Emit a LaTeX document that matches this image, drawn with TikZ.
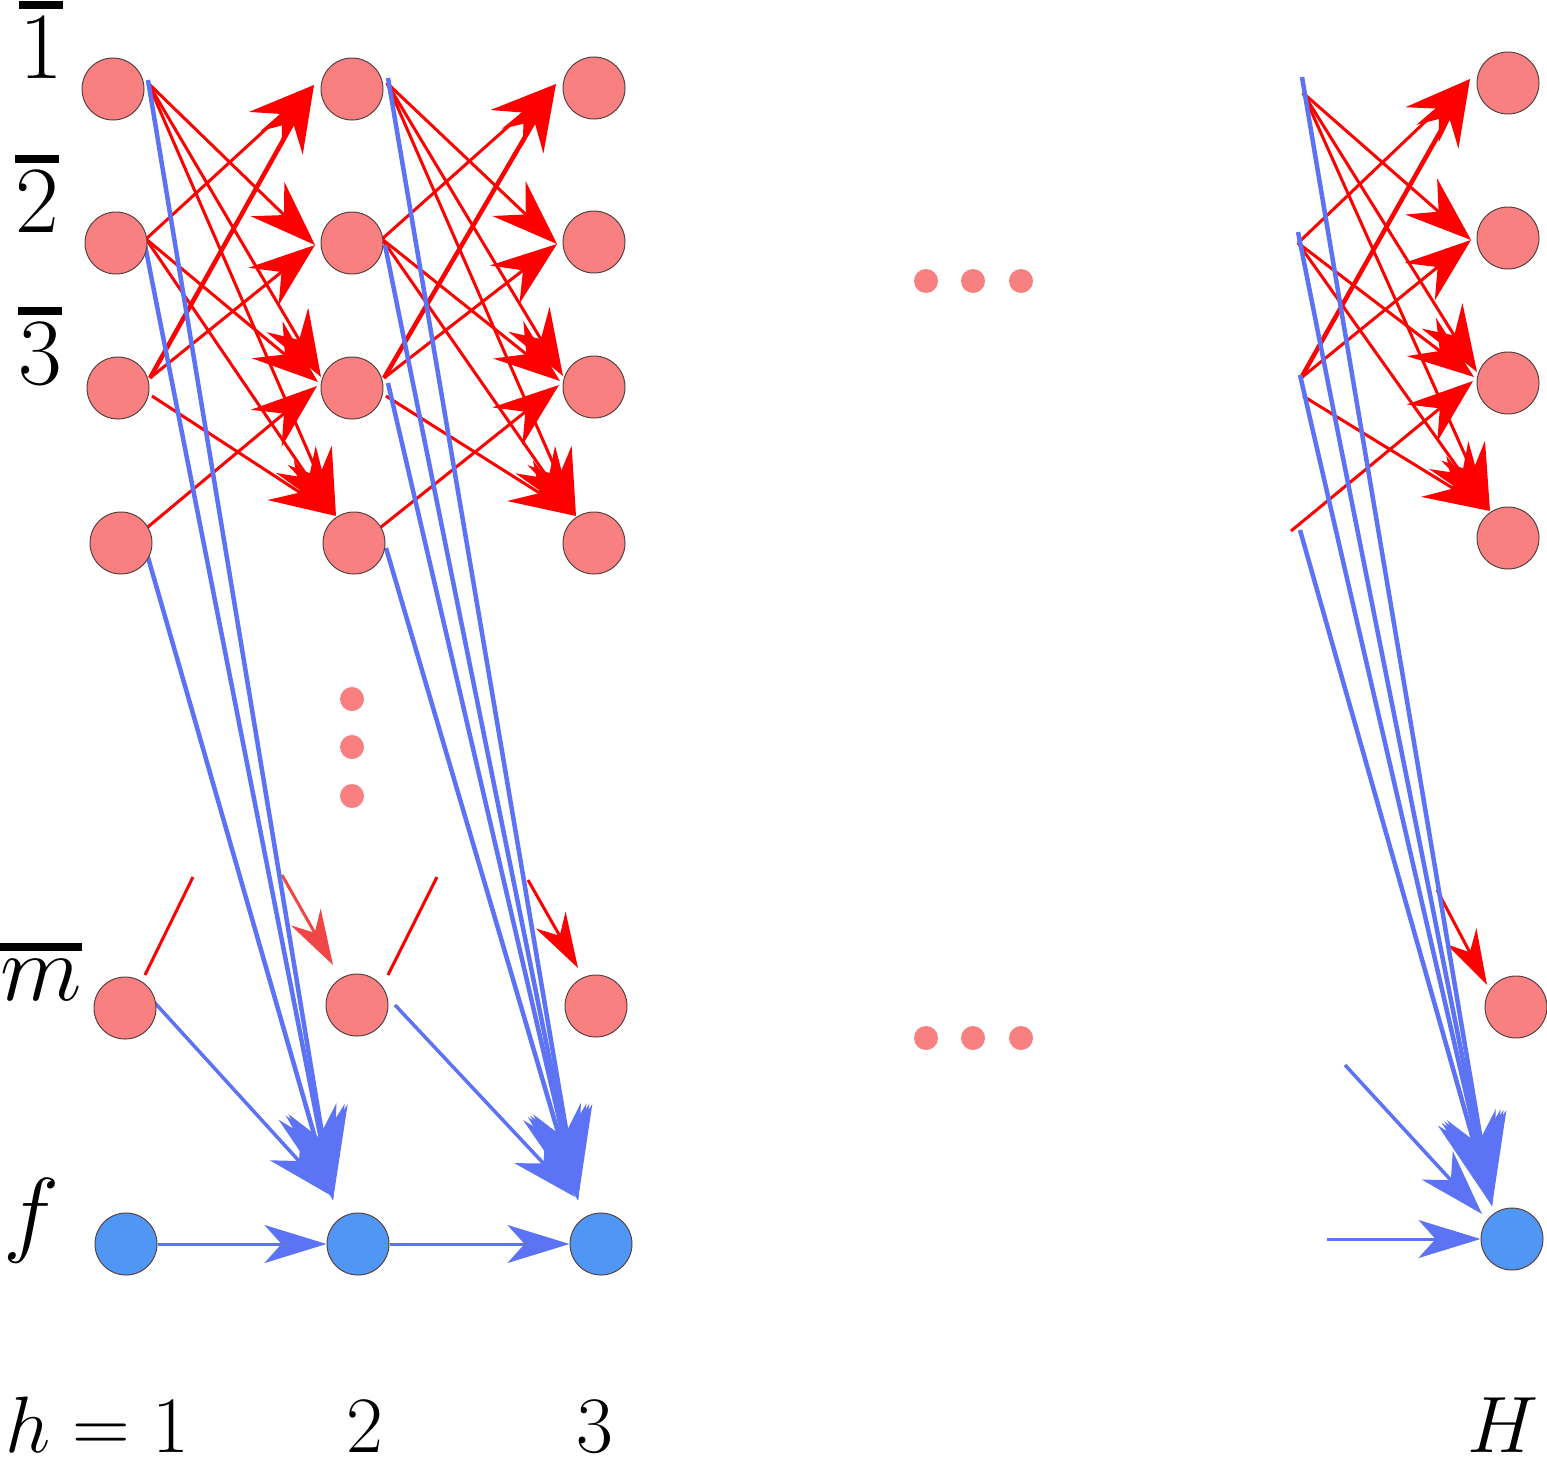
\documentclass[tikz,border=0pt]{standalone}
\usepackage{fix-cm}
\usetikzlibrary{arrows.meta,calc,backgrounds}
\definecolor{nred}{RGB}{248,128,128}
\definecolor{nblue}{RGB}{80,150,245}
\definecolor{eblue}{RGB}{92,115,245}
\definecolor{outl}{RGB}{90,65,65}
\definecolor{ered}{RGB}{255,0,0}
\definecolor{fred}{RGB}{240,70,70}
\newcommand{\ovl}[1]{\vbox{\hrule height 8pt\kern 8pt\hbox{$#1$}}}
\newcommand{\redpattern}[8]{%
 \draw[redge] ($(#1)+(35,-6)$) -- ($(#6)+(-37,2)$);
 \draw[redge] ($(#1)+(35,-6)$) -- ($(#7)+(-31,-11)$);
 \draw[redge] ($(#1)+(35,-6)$) -- ($(#8)+(-18,-27)$);
 \draw[redge] ($(#2)+(30,-4)$) -- ($(#5)+(-38,-4)$);
 \draw[redge] ($(#2)+(30,-4)$) -- ($(#7)+(-34,-6)$);
 \draw[redge] ($(#2)+(30,-4)$) -- ($(#8)+(-21,-29)$);
 \draw[redge,line width=4.5pt] ($(#3)+(32,-10)$) -- ($(#5)+(-38,-4)$);
 \draw[redge] ($(#3)+(32,-10)$) -- ($(#6)+(-37,2)$);
 \draw[redge] ($(#3)+(34,8)$) -- ($(#8)+(-18,-27)$);
 \draw[redge] ($(#4)+(22,-12)$) -- ($(#7)+(-35,-2)$);
}
\begin{document}
\begin{tikzpicture}[x=1pt,y=-1pt,
  rn/.style={circle,fill=nred,draw=outl,line width=1pt,minimum size=62pt,inner sep=0pt},
  bn/.style={circle,fill=nblue,draw=outl,line width=1pt,minimum size=62pt,inner sep=0pt},
  dotn/.style={circle,fill=nred,minimum size=24pt,inner sep=0pt},
  redge/.style={draw=ered,line width=3pt,-{Stealth[length=66pt,width=48pt,inset=23pt]}},
  redstub/.style={draw=ered,line width=3pt},
  mredge/.style={draw=ered,line width=3pt,-{Stealth[length=55pt,width=34pt,inset=18pt]}},
  bedge/.style={draw=eblue,line width=4.5pt,-{Stealth[length=92pt,width=60pt,inset=32pt]}},
  bmedge/.style={draw=eblue,line width=3.5pt,-{Stealth[length=66pt,width=42pt,inset=20pt]}},
  fedge/.style={draw=eblue,line width=3pt,-{Stealth[length=62pt,width=38pt,inset=17pt]}},
  lab/.style={inner sep=0pt,anchor=base,font=\fontsize{95}{95}\selectfont},
  blab/.style={inner sep=0pt,anchor=base,font=\fontsize{80}{80}\selectfont},
]
\useasboundingbox (0,0) rectangle (1547,1464);

% column 1
\node[rn] (A1) at (113,89) {};
\node[rn] (A2) at (116,243) {};
\node[rn] (A3) at (118,388) {};
\node[rn] (A4) at (121,543) {};
\node[rn] (Am) at (125,1008) {};
\node[bn] (Af) at (126,1244) {};
% column 2
\node[rn] (B1) at (352,89) {};
\node[rn] (B2) at (352,243) {};
\node[rn] (B3) at (352,388) {};
\node[rn] (B4) at (354,543) {};
\node[rn] (Bm) at (357,1005) {};
\node[bn] (Bf) at (358,1244) {};
% column 3
\node[rn] (C1) at (594,88) {};
\node[rn] (C2) at (594,242) {};
\node[rn] (C3) at (594,387) {};
\node[rn] (C4) at (594,543) {};
\node[rn] (Cm) at (596,1006) {};
\node[bn] (Cf) at (601,1244) {};
% column H
\node[rn] (H1) at (1508,83) {};
\node[rn] (H2) at (1508,238) {};
\node[rn] (H3) at (1508,383) {};
\node[rn] (H4) at (1508,538) {};
\node[rn] (Hm) at (1516,1007) {};
\node[bn] (Hf) at (1512,1239) {};
% virtual sources for column H
\coordinate (G1) at (1268,99);
\coordinate (G2) at (1268,247);
\coordinate (G3) at (1269,388);
\coordinate (G4) at (1269,543);

% dots
\node[dotn] (dv1) at (352,699) {};
\node[dotn] (dv2) at (352,747) {};
\node[dotn] (dv3) at (352,796) {};
\node[dotn] (dt1) at (926,281) {};
\node[dotn] (dt2) at (973,281) {};
\node[dotn] (dt3) at (1021,281) {};
\node[dotn] (db1) at (926,1038) {};
\node[dotn] (db2) at (973,1038) {};
\node[dotn] (db3) at (1021,1038) {};

% labels
\node[lab] (l1) at (41,78) {\ovl{1}};
\node[lab] (l2) at (37,232) {\ovl{2}};
\node[lab] (l3) at (40,384) {\ovl{3}};
\node[lab] (lm) at (41,1000) {\ovl{m}};
\node[lab] (lf) at (31,1244) {$f$};
\node[blab] (h1) at (97,1452) {$h=1$};
\node[blab] (h2) at (365,1452) {$2$};
\node[blab] (h3) at (595,1452) {$3$};
\node[blab] (hH) at (1503,1452) {$H$};

\begin{pgfonlayer}{background}
% red edges between top rows
\redpattern{A1}{A2}{A3}{A4}{B1}{B2}{B3}{B4}
\redpattern{B1}{B2}{B3}{B4}{C1}{C2}{C3}{C4}
\redpattern{G1}{G2}{G3}{G4}{H1}{H2}{H3}{H4}
% red stubs around m
\draw[redstub] ($(Am)+(20,-33)$) -- ++(48,-98);
\draw[mredge,draw=fred] ($(Bm)+(-75,-130)$) -- ($(Bm)+(-24,-40)$);
\draw[redstub] ($(Bm)+(31,-30)$) -- ++(49,-98);
\draw[mredge] ($(Cm)+(-68,-126)$) -- ($(Cm)+(-18,-38)$);
\draw[mredge] ($(Hm)+(-79,-117)$) -- ($(Hm)+(-29,-22)$);
% blue edges column 1 -> 2
\draw[bedge] ($(A1)+(35,-9)$) -- ($(Bf)+(-25,-44)$);
\draw[bedge] ($(A2)+(29,2)$) -- ($(Bf)+(-25,-44)$);
\draw[bedge] ($(A4)+(24,4)$) -- ($(Bf)+(-25,-44)$);
\draw[bmedge] ($(Am)+(30,-5)$) -- ($(Bf)+(-28,-49)$);
% blue edges column 2 -> 3
\draw[bedge] ($(B1)+(36,-11)$) -- ($(Cf)+(-23,-44)$);
\draw[bedge] ($(B2)+(33,2)$) -- ($(Cf)+(-23,-44)$);
\draw[bedge] ($(B3)+(36,-5)$) -- ($(Cf)+(-23,-44)$);
\draw[bedge] ($(B4)+(32,5)$) -- ($(Cf)+(-23,-44)$);
\draw[bmedge] ($(Bm)+(38,0)$) -- ($(Cf)+(-26,-47)$);
% blue edges into column H
\draw[bedge] ($(G1)+(34,-22)$) -- ($(Hf)+(-20,-33)$);
\draw[bedge] ($(G2)+(30,-15)$) -- ($(Hf)+(-20,-33)$);
\draw[bedge] ($(G3)+(31,-13)$) -- ($(Hf)+(-20,-33)$);
\draw[bedge] ($(G4)+(31,-13)$) -- ($(Hf)+(-20,-33)$);
\coordinate (Hms) at (1345,1065);
\draw[bmedge] (Hms) -- ($(Hf)+(-30,-25)$);
% f chain
\draw[fedge] (Af) -- (Bf);
\draw[fedge] (Bf) -- (Cf);
\coordinate (Hfs) at (1327,1239);
\draw[fedge] (Hfs) -- (Hf);
\end{pgfonlayer}
\end{tikzpicture}
\end{document}
